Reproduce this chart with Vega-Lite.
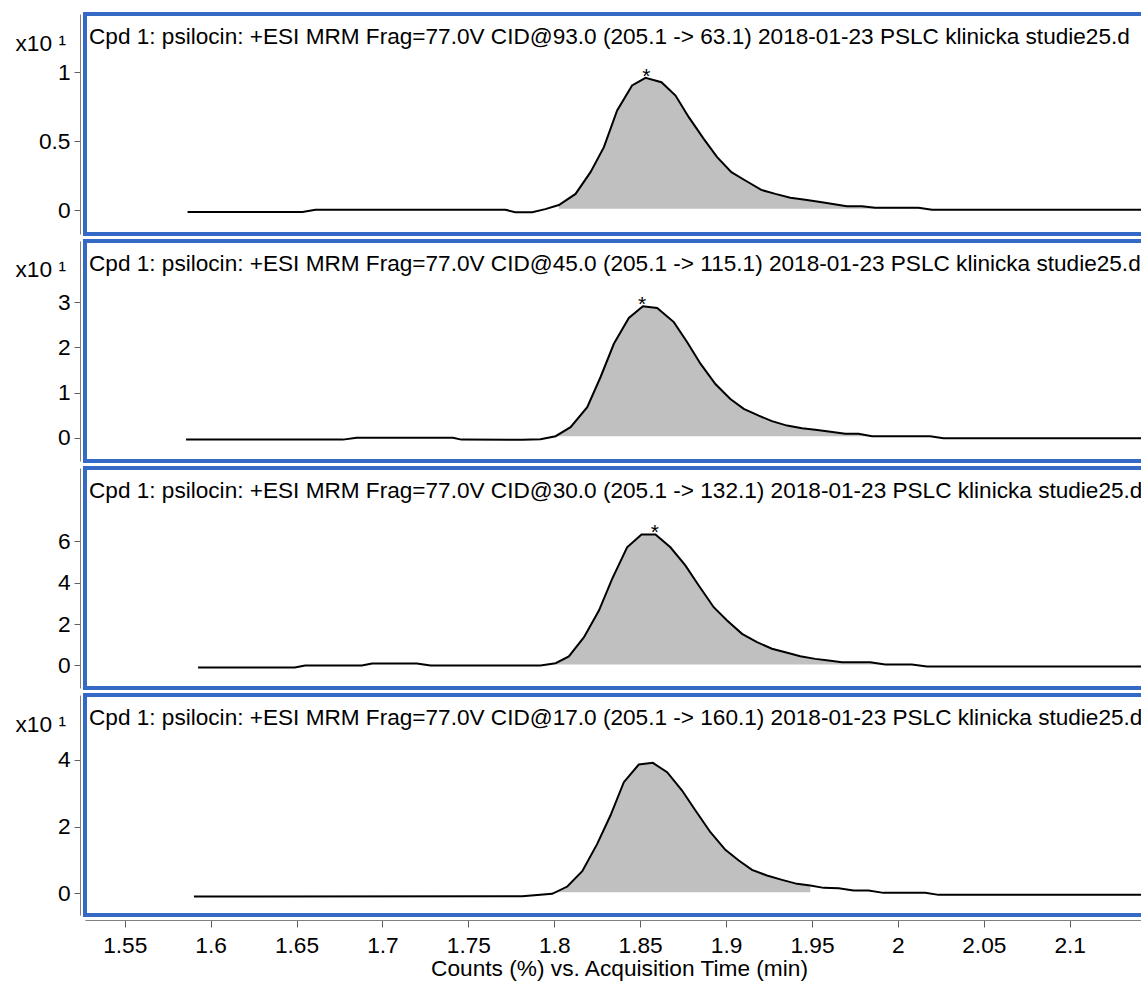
{
  "$schema": "https://vega.github.io/schema/vega-lite/v6.json",
  "padding": {"left": 13, "top": 12, "right": 0, "bottom": 0},
  "spacing": 3,
  "datasets": {
    "trace": [
      {"p":1,"x":1.5866,"y":-0.01},{"p":1,"x":1.6535,"y":-0.01},{"p":1,"x":1.661,"y":0.005},{"p":1,"x":1.7716,"y":0.005},{"p":1,"x":1.7773,"y":-0.012},{"p":1,"x":1.7872,"y":-0.012},{"p":1,"x":1.7948,"y":0.01},{"p":1,"x":1.8027,"y":0.04},{"p":1,"x":1.8124,"y":0.12},{"p":1,"x":1.8211,"y":0.277},{"p":1,"x":1.8289,"y":0.458},{"p":1,"x":1.8366,"y":0.723},{"p":1,"x":1.8453,"y":0.904},{"p":1,"x":1.8531,"y":0.959},{"p":1,"x":1.8624,"y":0.928},{"p":1,"x":1.8706,"y":0.831},{"p":1,"x":1.8783,"y":0.675},{"p":1,"x":1.887,"y":0.518},{"p":1,"x":1.8948,"y":0.386},{"p":1,"x":1.9031,"y":0.277},{"p":1,"x":1.9112,"y":0.217},{"p":1,"x":1.9205,"y":0.149},{"p":1,"x":1.9287,"y":0.12},{"p":1,"x":1.9374,"y":0.092},{"p":1,"x":1.9461,"y":0.077},{"p":1,"x":1.9558,"y":0.06},{"p":1,"x":1.9703,"y":0.031},{"p":1,"x":1.9791,"y":0.031},{"p":1,"x":1.9868,"y":0.019},{"p":1,"x":2.012,"y":0.019},{"p":1,"x":2.0198,"y":0.005},{"p":1,"x":2.1485,"y":0.005},
      {"p":2,"x":1.5857,"y":-0.04},{"p":2,"x":1.677,"y":-0.04},{"p":2,"x":1.685,"y":0.0},{"p":2,"x":1.741,"y":0.0},{"p":2,"x":1.746,"y":-0.04},{"p":2,"x":1.7814,"y":-0.045},{"p":2,"x":1.792,"y":-0.03},{"p":2,"x":1.8008,"y":0.035},{"p":2,"x":1.8095,"y":0.235},{"p":2,"x":1.8192,"y":0.677},{"p":2,"x":1.8269,"y":1.34},{"p":2,"x":1.8347,"y":2.08},{"p":2,"x":1.8434,"y":2.65},{"p":2,"x":1.8516,"y":2.91},{"p":2,"x":1.8599,"y":2.87},{"p":2,"x":1.8696,"y":2.56},{"p":2,"x":1.8773,"y":2.12},{"p":2,"x":1.8851,"y":1.64},{"p":2,"x":1.8938,"y":1.19},{"p":2,"x":1.9025,"y":0.86},{"p":2,"x":1.9103,"y":0.64},{"p":2,"x":1.919,"y":0.49},{"p":2,"x":1.9267,"y":0.37},{"p":2,"x":1.9355,"y":0.27},{"p":2,"x":1.9442,"y":0.21},{"p":2,"x":1.9519,"y":0.18},{"p":2,"x":1.9597,"y":0.14},{"p":2,"x":1.9694,"y":0.09},{"p":2,"x":1.9771,"y":0.09},{"p":2,"x":1.9849,"y":0.035},{"p":2,"x":2.0188,"y":0.035},{"p":2,"x":2.0265,"y":-0.01},{"p":2,"x":2.1485,"y":-0.01},
      {"p":3,"x":1.5927,"y":-0.1},{"p":3,"x":1.649,"y":-0.1},{"p":3,"x":1.655,"y":0.0},{"p":3,"x":1.688,"y":0.0},{"p":3,"x":1.694,"y":0.1},{"p":3,"x":1.72,"y":0.1},{"p":3,"x":1.728,"y":0.0},{"p":3,"x":1.792,"y":0.0},{"p":3,"x":1.8008,"y":0.11},{"p":3,"x":1.8085,"y":0.44},{"p":3,"x":1.8173,"y":1.37},{"p":3,"x":1.826,"y":2.66},{"p":3,"x":1.8337,"y":4.19},{"p":3,"x":1.8424,"y":5.72},{"p":3,"x":1.8508,"y":6.34},{"p":3,"x":1.8589,"y":6.34},{"p":3,"x":1.8676,"y":5.72},{"p":3,"x":1.8763,"y":4.84},{"p":3,"x":1.8841,"y":3.87},{"p":3,"x":1.8928,"y":2.82},{"p":3,"x":1.9006,"y":2.18},{"p":3,"x":1.9093,"y":1.53},{"p":3,"x":1.918,"y":1.13},{"p":3,"x":1.9267,"y":0.81},{"p":3,"x":1.9345,"y":0.64},{"p":3,"x":1.9432,"y":0.45},{"p":3,"x":1.9519,"y":0.32},{"p":3,"x":1.9597,"y":0.24},{"p":3,"x":1.9674,"y":0.16},{"p":3,"x":1.9839,"y":0.16},{"p":3,"x":1.9926,"y":0.05},{"p":3,"x":2.0081,"y":0.05},{"p":3,"x":2.0169,"y":-0.05},{"p":3,"x":2.1485,"y":-0.05},
      {"p":4,"x":1.5903,"y":-0.1},{"p":4,"x":1.7814,"y":-0.09},{"p":4,"x":1.7988,"y":-0.02},{"p":4,"x":1.8076,"y":0.2},{"p":4,"x":1.8163,"y":0.66},{"p":4,"x":1.825,"y":1.48},{"p":4,"x":1.8327,"y":2.33},{"p":4,"x":1.8405,"y":3.33},{"p":4,"x":1.8492,"y":3.86},{"p":4,"x":1.8574,"y":3.91},{"p":4,"x":1.8657,"y":3.63},{"p":4,"x":1.8744,"y":3.08},{"p":4,"x":1.8822,"y":2.48},{"p":4,"x":1.8909,"y":1.83},{"p":4,"x":1.8996,"y":1.3},{"p":4,"x":1.9074,"y":0.98},{"p":4,"x":1.9151,"y":0.7},{"p":4,"x":1.9238,"y":0.53},{"p":4,"x":1.9326,"y":0.4},{"p":4,"x":1.9413,"y":0.28},{"p":4,"x":1.949,"y":0.23},{"p":4,"x":1.9568,"y":0.16},{"p":4,"x":1.9655,"y":0.15},{"p":4,"x":1.9742,"y":0.08},{"p":4,"x":1.9829,"y":0.08},{"p":4,"x":1.9916,"y":0.01},{"p":4,"x":2.0159,"y":0.01},{"p":4,"x":2.0237,"y":-0.05},{"p":4,"x":2.1485,"y":-0.05}
    ],
    "peaks": [
      {"p":1,"x":1.8536,"y":0.959},
      {"p":2,"x":1.8511,"y":2.91},
      {"p":3,"x":1.8585,"y":6.34}
    ]
  },
  "config": {
    "font": "Liberation Sans",
    "view": {"stroke": "#3469c6", "strokeWidth": 4},
    "axis": {"grid": false, "labelFont": "Liberation Sans", "labelFontSize": 22.7, "labelColor": "#000000", "titleFont": "Liberation Sans", "titleFontSize": 22.7, "titleFontWeight": "normal", "titleColor": "#000000", "domainColor": "#808080", "tickColor": "#606060"},
    "title": {"font": "Liberation Sans", "fontSize": 22.6, "fontWeight": "normal", "color": "#000000", "anchor": "start", "frame": "group", "baseline": "alphabetic", "offset": -35, "dx": 4}
  },
  "resolve": {"scale": {"y": "independent"}},
  "vconcat": [
    {
      "width": 1068, "height": 220,
      "title": {"text": "Cpd 1: psilocin: +ESI MRM Frag=77.0V CID@93.0 (205.1 -> 63.1) 2018-01-23 PSLC klinicka studie25.d"},
      "encoding": {
        "x": {"field": "x", "type": "quantitative", "scale": {"domain": [1.52689, 2.14848], "nice": false, "zero": false}, "axis": null},
        "y": {"field": "y", "type": "quantitative", "scale": {"domain": [-0.170, 1.421], "nice": false, "zero": false},
              "axis": {"values": [0, 0.5, 1], "format": "~g", "offset": 5, "tickSize": 6, "labelPadding": 4, "title": "x10 ¹", "titleAngle": 0, "titleAlign": "left", "titleBaseline": "middle", "titleX": -65, "titleY": 29}}
      },
      "layer": [
        {"data": {"name": "trace"}, "transform": [{"filter": "datum.p == 1 && datum.x >= 1.8 && datum.x <= 2.02"}], "mark": {"type": "area", "color": "#c0c0c0"}, "encoding": {"y2": {"datum": 0.012}}},
        {"data": {"name": "trace"}, "transform": [{"filter": "datum.p == 1"}], "mark": {"type": "line", "color": "#000000", "strokeWidth": 2}},
        {"data": {"name": "peaks"}, "transform": [{"filter": "datum.p == 1"}], "mark": {"type": "text", "text": "*", "fontSize": 21, "baseline": "alphabetic", "dy": 5, "color": "#000000"}}
      ]
    },
    {
      "width": 1068, "height": 220,
      "title": {"text": "Cpd 1: psilocin: +ESI MRM Frag=77.0V CID@45.0 (205.1 -> 115.1) 2018-01-23 PSLC klinicka studie25.d"},
      "encoding": {
        "x": {"field": "x", "type": "quantitative", "scale": {"domain": [1.52689, 2.14848], "nice": false, "zero": false}, "axis": null},
        "y": {"field": "y", "type": "quantitative", "scale": {"domain": [-0.513, 4.354], "nice": false, "zero": false},
              "axis": {"values": [0, 1, 2, 3], "format": "~g", "offset": 5, "tickSize": 6, "labelPadding": 4, "title": "x10 ¹", "titleAngle": 0, "titleAlign": "left", "titleBaseline": "middle", "titleX": -65, "titleY": 28}}
      },
      "layer": [
        {"data": {"name": "trace"}, "transform": [{"filter": "datum.p == 2 && datum.x >= 1.8 && datum.x <= 2.02"}], "mark": {"type": "area", "color": "#c0c0c0"}, "encoding": {"y2": {"datum": 0.035}}},
        {"data": {"name": "trace"}, "transform": [{"filter": "datum.p == 2"}], "mark": {"type": "line", "color": "#000000", "strokeWidth": 2}},
        {"data": {"name": "peaks"}, "transform": [{"filter": "datum.p == 2"}], "mark": {"type": "text", "text": "*", "fontSize": 21, "baseline": "alphabetic", "dy": 5, "color": "#000000"}}
      ]
    },
    {
      "width": 1068, "height": 220,
      "title": {"text": "Cpd 1: psilocin: +ESI MRM Frag=77.0V CID@30.0 (205.1 -> 132.1) 2018-01-23 PSLC klinicka studie25.d"},
      "encoding": {
        "x": {"field": "x", "type": "quantitative", "scale": {"domain": [1.52689, 2.14848], "nice": false, "zero": false}, "axis": null},
        "y": {"field": "y", "type": "quantitative", "scale": {"domain": [-1.089, 9.555], "nice": false, "zero": false},
              "axis": {"values": [0, 2, 4, 6], "format": "~g", "offset": 5, "tickSize": 6, "labelPadding": 4, "title": null}}
      },
      "layer": [
        {"data": {"name": "trace"}, "transform": [{"filter": "datum.p == 3 && datum.x >= 1.8 && datum.x <= 2.01"}], "mark": {"type": "area", "color": "#c0c0c0"}, "encoding": {"y2": {"datum": 0.05}}},
        {"data": {"name": "trace"}, "transform": [{"filter": "datum.p == 3"}], "mark": {"type": "line", "color": "#000000", "strokeWidth": 2}},
        {"data": {"name": "peaks"}, "transform": [{"filter": "datum.p == 3"}], "mark": {"type": "text", "text": "*", "fontSize": 21, "baseline": "alphabetic", "dy": 5, "color": "#000000"}}
      ]
    },
    {
      "width": 1068, "height": 220,
      "title": {"text": "Cpd 1: psilocin: +ESI MRM Frag=77.0V CID@17.0 (205.1 -> 160.1) 2018-01-23 PSLC klinicka studie25.d"},
      "encoding": {
        "x": {"field": "x", "type": "quantitative", "scale": {"domain": [1.52689, 2.14848], "nice": false, "zero": false},
              "axis": {"values": [1.55, 1.6, 1.65, 1.7, 1.75, 1.8, 1.85, 1.9, 1.95, 2, 2.05, 2.1], "format": "~g", "offset": 5, "tickSize": 7, "labelPadding": 7, "title": "Counts (%) vs. Acquisition Time (min)", "titlePadding": 1}},
        "y": {"field": "y", "type": "quantitative", "scale": {"domain": [-0.654, 5.946], "nice": false, "zero": false},
              "axis": {"values": [0, 2, 4], "format": "~g", "offset": 5, "tickSize": 6, "labelPadding": 4, "title": "x10 ¹", "titleAngle": 0, "titleAlign": "left", "titleBaseline": "middle", "titleX": -65, "titleY": 29}}
      },
      "layer": [
        {"data": {"name": "trace"}, "transform": [{"filter": "datum.p == 4 && datum.x >= 1.798 && datum.x <= 1.9495"}], "mark": {"type": "area", "color": "#c0c0c0"}, "encoding": {"y2": {"datum": 0.03}}},
        {"data": {"name": "trace"}, "transform": [{"filter": "datum.p == 4"}], "mark": {"type": "line", "color": "#000000", "strokeWidth": 2}}
      ]
    }
  ]
}
